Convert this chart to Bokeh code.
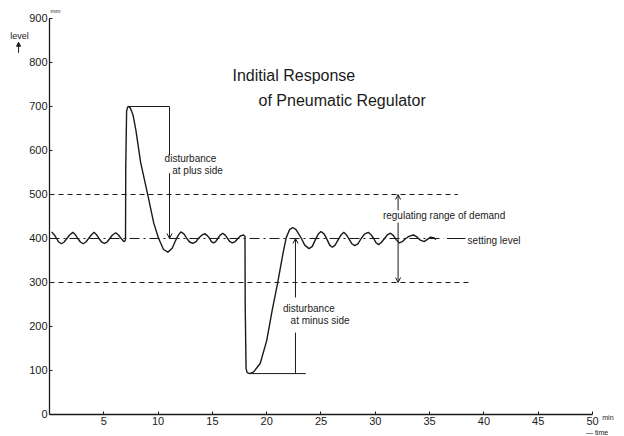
from bokeh.plotting import figure
from bokeh.models import Range1d, Label, Arrow, OpenHead, NormalHead, FixedTicker
from bokeh.embed import file_html
from bokeh.resources import INLINE

# ---- data ----
time_min = [0.2, 0.45, 0.65, 0.85, 1.1, 1.35, 1.6, 1.85, 2.15, 2.4, 2.6, 2.85, 3.1, 3.35, 3.6, 3.85,
            4.1, 4.35, 4.55, 4.8, 5.05, 5.3, 5.55, 5.8, 6.1, 6.35, 6.6, 6.85, 6.95, 7.0,
            7.02, 7.1, 7.2, 7.3, 7.45, 7.7, 7.95, 8.4, 9.05, 9.6, 10.05, 10.5, 10.9, 11.3, 11.6, 11.85,
            12.1, 12.4, 12.65, 12.9, 13.2, 13.5, 13.7, 14.0, 14.3, 14.55, 14.75, 14.9, 15.1, 15.3,
            15.5, 15.7, 15.95, 16.2, 16.4, 16.6, 16.85, 17.1, 17.35, 17.6, 17.85, 18.0,
            18.02, 18.1, 18.2, 18.45, 18.8, 19.4, 20.0, 20.5, 21.0, 21.5, 21.8, 22.1, 22.4, 22.7,
            23.0, 23.2, 23.5, 23.9, 24.2, 24.5, 24.75, 25.0, 25.3, 25.55, 25.8, 26.05, 26.3, 26.6,
            26.85, 27.1, 27.35, 27.6, 27.85, 28.1, 28.4, 28.7, 29.0, 29.35, 29.6, 29.85, 30.05,
            30.3, 30.55, 30.85, 31.1, 31.4, 31.65, 31.9, 32.2, 32.5, 32.8, 33.1, 33.5, 33.8, 34.1,
            34.5, 34.8, 35.1, 35.35, 35.6]
level_mm = [415, 408, 400, 392, 388, 392, 400, 408, 414, 408, 400, 392, 388, 392, 400, 408,
            414, 408, 400, 392, 389, 392, 400, 408, 413, 408, 400, 393, 394, 398,
            560, 690, 699, 700, 696, 680, 647, 572, 499, 435, 400, 375, 369, 378, 395, 407,
            415, 410, 400, 392, 389, 393, 400, 407, 411, 406, 400, 393, 390, 393,
            400, 407, 412, 407, 400, 393, 390, 393, 400, 406, 408, 405,
            250, 105, 95, 93, 97, 116, 168, 236, 298, 366, 402, 420, 425, 420,
            408, 400, 385, 377, 382, 398, 410, 416, 410, 398, 385, 380, 385, 398,
            408, 414, 408, 398, 388, 384, 388, 400, 410, 414, 409, 400, 391,
            386, 391, 400, 408, 412, 407, 398, 390, 393, 400, 405, 408, 404, 397,
            393, 398, 403, 402, 398]

x_ticks = [5, 10, 15, 20, 25, 30, 35, 40, 45, 50]
y_ticks = [0, 100, 200, 300, 400, 500, 600, 700, 800, 900]

setting_level = 400
range_upper = 500
range_lower = 300
plus_peak = 700
minus_trough = 93

INK = "#1a1a1a"
FONT = "Liberation Sans"

p = figure(width=624, height=436, x_range=Range1d(-4.512, 52.947), y_range=Range1d(-50, 940.9),
           output_backend="svg", toolbar_location=None,
           min_border_left=0, min_border_right=0, min_border_top=0, min_border_bottom=0)
p.outline_line_color = None
p.grid.visible = False
p.background_fill_color = "white"
p.border_fill_color = "white"

p.xaxis.fixed_location = 0
p.yaxis.fixed_location = 0
p.xaxis.bounds = (0, 50)
p.yaxis.bounds = (0, 900)
for ax, ticks in ((p.xaxis, x_ticks), (p.yaxis, y_ticks)):
    ax.ticker = FixedTicker(ticks=ticks)
    ax.minor_tick_line_color = None
    ax.major_tick_in = 3
    ax.major_tick_out = 0
    ax.axis_line_color = INK
    ax.axis_line_width = 1.3
    ax.major_tick_line_color = INK
    ax.major_label_text_color = INK
    ax.major_label_text_font = FONT
p.xaxis.major_label_text_font_size = "11px"
p.xaxis.major_label_standoff = 3
p.yaxis.major_label_text_font_size = "11px"
p.yaxis.major_label_standoff = 2

# reference lines
p.line([0, 37.6], [range_upper, range_upper], line_dash="5 4", line_color=INK, line_width=1)
p.line([0, 38.8], [range_lower, range_lower], line_dash="5 4", line_color=INK, line_width=1)
p.line([0, 36.3], [setting_level, setting_level], line_dash="10 4 2 4", line_color=INK, line_width=1)
p.line([36.6, 38.3], [setting_level, setting_level], line_color=INK, line_width=1)

# response curve
p.line(time_min, level_mm, line_color=INK, line_width=1.4)

# disturbance markers
p.line([7.3, 11.05], [plus_peak, plus_peak], line_color=INK, line_width=1)
p.line([18.45, 23.6], [minus_trough, minus_trough], line_color=INK, line_width=1)
p.line([11.05, 11.05], [plus_peak, 589], line_color=INK, line_width=1)
p.add_layout(Arrow(end=OpenHead(size=5, line_width=1, line_color=INK), x_start=11.05, y_start=548,
                   x_end=11.05, y_end=setting_level, line_width=1, line_color=INK))
p.line([22.65, 22.65], [minus_trough, 186], line_color=INK, line_width=1)
p.add_layout(Arrow(end=OpenHead(size=5, line_width=1, line_color=INK), x_start=22.65, y_start=266,
                   x_end=22.65, y_end=setting_level, line_width=1, line_color=INK))
p.add_layout(Arrow(end=OpenHead(size=5, line_width=1, line_color=INK), x_start=32.1, y_start=464,
                   x_end=32.1, y_end=range_upper, line_width=1, line_color=INK))
p.add_layout(Arrow(end=OpenHead(size=5, line_width=1, line_color=INK), x_start=32.1, y_start=436,
                   x_end=32.1, y_end=range_lower, line_width=1, line_color=INK))

def lab(x, y, text, size, align="left"):
    p.add_layout(Label(x=x, y=y, text=text, text_font=FONT, text_font_size=size,
                       text_color=INK, text_align=align, text_baseline="middle"))

lab(16.85, 770, "Inditial Response", "16px")
lab(19.25, 714, "of Pneumatic Regulator", "16px")
lab(10.6, 582, "disturbance", "10px")
lab(11.3, 555, "at plus side", "10px")
lab(21.5, 241, "disturbance", "10px")
lab(22.2, 214, "at minus side", "10px")
lab(30.7, 452, "regulating range of demand", "10px")
lab(38.5, 395, "setting level", "10px")

# axis captions
lab(-2.76, 861, "level", "9px", "center")
p.add_layout(Arrow(end=NormalHead(size=4, line_color=INK, fill_color=INK), x_start=-2.85, y_start=822,
                   x_end=-2.85, y_end=846, line_width=1, line_color=INK))
lab(0.1, 918, "mm", "6px")
lab(50.9, -7, "min", "7px")
lab(49.4, -41, "— time", "7px")

open("out.html", "w").write(file_html(p, INLINE))
